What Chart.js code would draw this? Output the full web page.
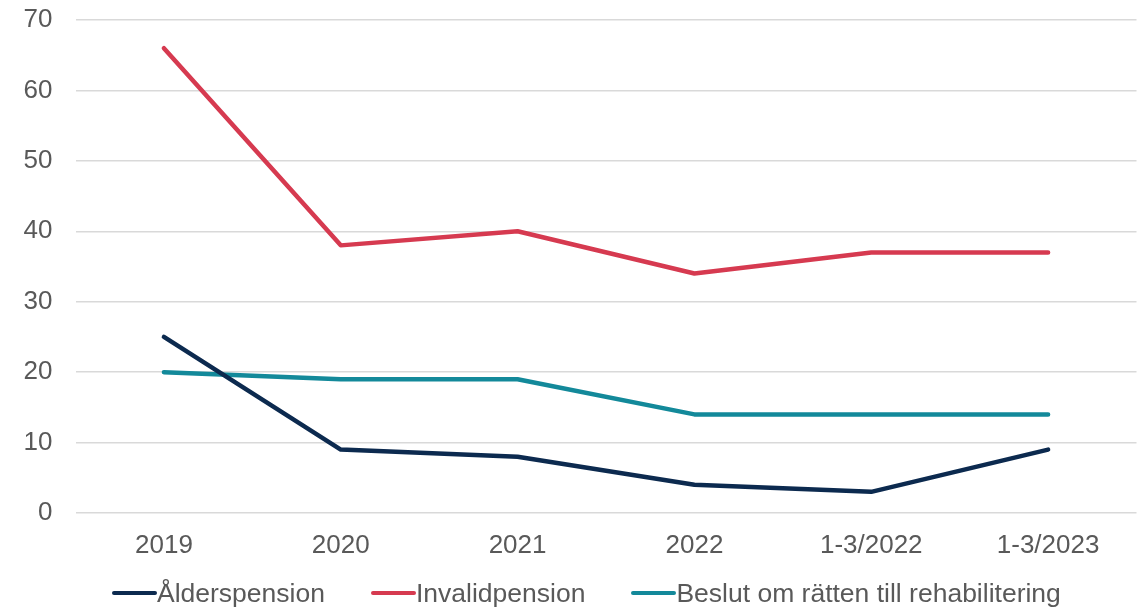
<!DOCTYPE html>
<html>
<head>
<meta charset="utf-8">
<script src="https://cdn.jsdelivr.net/npm/chart.js@4/dist/chart.umd.min.js"></script>
<style>
  html, body { margin: 0; padding: 0; background: #fff; overflow: hidden; }
  #wrap { position: relative; width: 1142px; height: 607px; }
  #legend {
    position: absolute; left: 112px; top: 578px;
    display: flex; gap: 46px;
    font-family: "Liberation Sans", Arial, sans-serif; font-size: 26.5px;
    line-height: 30px; color: #595959; white-space: nowrap;
  }
  .item { display: flex; align-items: center; }
  .mark { width: 45px; height: 4.5px; border-radius: 2px; }
</style>
</head>
<body>
<div id="wrap">
  <canvas id="chart" width="1142" height="607"></canvas>
  <div id="legend"></div>
</div>
<script>
// Ansökningar / beslut per period

const categories = ['2019', '2020', '2021', '2022', '1-3/2022', '1-3/2023'];
const alderspension = [25, 9, 8, 4, 3, 9];
const invalidpension = [66, 38, 40, 34, 37, 37];
const rehabilitering = [20, 19, 19, 14, 14, 14];
const seriesNames = ['Ålderspension', 'Invalidpension', 'Beslut om rätten till rehabilitering'];
const seriesColors = ['#0c2a4f', '#d63a50', '#13899a'];

const font = { family: '"Liberation Sans", Arial, sans-serif', size: 26 };

const datasets = [alderspension, invalidpension, rehabilitering].map((vals, i) => ({
    label: seriesNames[i],
    data: vals,
    borderColor: seriesColors[i],
    backgroundColor: seriesColors[i],
    borderWidth: 4.5,
    borderCapStyle: 'round',
    borderJoinStyle: 'round',
    pointRadius: 0,
    pointHoverRadius: 0,
    tension: 0,
    fill: false
}));

new Chart(document.getElementById('chart'), {
    type: 'line',
    data: { labels: categories, datasets: datasets },
    options: {
        responsive: false,
        animation: false,
        layout: { padding: { top: 20, right: 5.5, bottom: 0, left: 0 } },
        plugins: {
            legend: { display: false },
            tooltip: { enabled: false }
        },
        scales: {
            x: {
                offset: true,
                grid: { display: false, drawTicks: false },
                border: { display: false },
                ticks: { color: '#595959', font: font, padding: 17, maxRotation: 0 },
                afterFit: (scale) => { scale.height = 94; }
            },
            y: {
                min: 0,
                max: 70,
                grid: { color: '#d9d9d9', lineWidth: 1.5, drawTicks: false },
                border: { display: false },
                ticks: { stepSize: 10, color: '#595959', font: font, padding: 23 },
                afterFit: (scale) => {
                    scale.width = 75.5;
                    // labels may overflow the chart area, as in the original
                    scale.paddingTop = 0;
                    scale.paddingBottom = 0;
                }
            }
        }
    }
});

// legend under the chart
const legendEl = document.getElementById('legend');
seriesNames.forEach((name, i) => {
    const item = document.createElement('div');
    item.className = 'item';
    const mark = document.createElement('span');
    mark.className = 'mark';
    mark.style.background = seriesColors[i];
    const txt = document.createElement('span');
    txt.textContent = name;
    item.appendChild(mark);
    item.appendChild(txt);
    legendEl.appendChild(item);
});
</script>
</body>
</html>
